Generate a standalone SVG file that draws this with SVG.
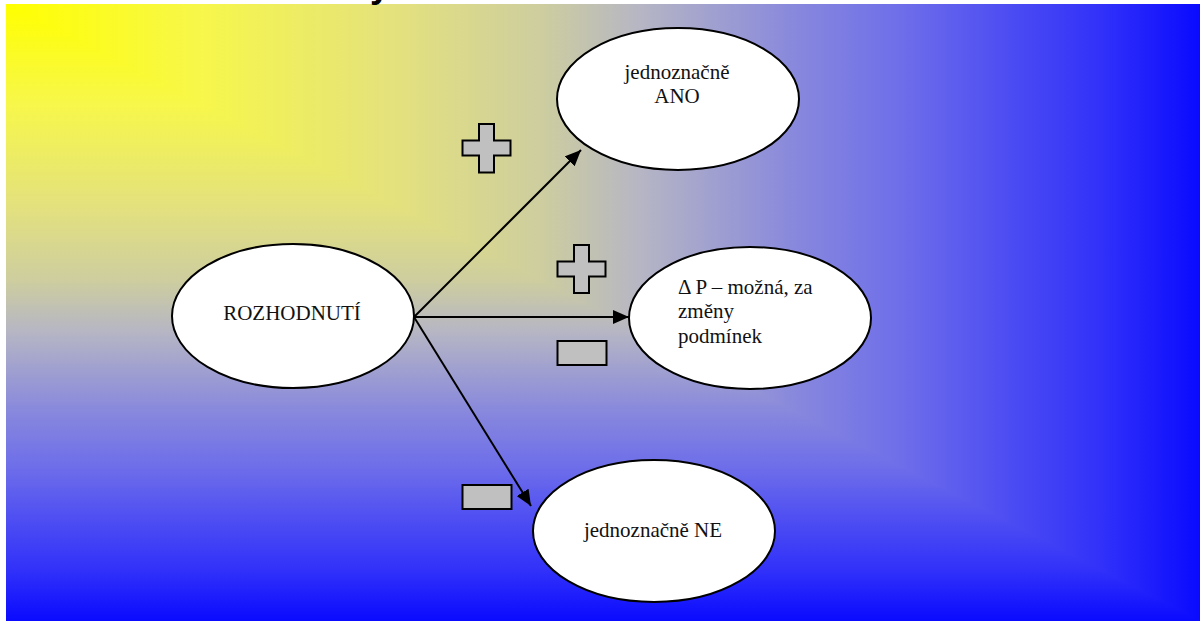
<svg xmlns="http://www.w3.org/2000/svg" width="1204" height="625" viewBox="0 0 1204 625">
  <style>
    .node ellipse { fill: #ffffff; stroke: #000000; stroke-width: 2; }
    .node text { font-family: "Liberation Serif", "Times New Roman", serif; font-size: 21px; fill: #111111; }
    .mid { text-anchor: middle; }
    .edge { stroke: #000000; stroke-width: 2; fill: none; marker-end: url(#arrow); }
    .sign { fill: #c0c0c0; stroke: #000000; stroke-width: 2; stroke-linejoin: miter; }
  </style>
  <defs>
    <!-- corner gradient: colour follows max(x, y) distance from the top-left corner -->
    <linearGradient id="bgH" gradientUnits="userSpaceOnUse" x1="6" y1="0" x2="1200" y2="0">
      <stop offset="0" stop-color="#ffff00"/>
      <stop offset="0.16" stop-color="#f7f74a"/>
      <stop offset="0.33" stop-color="#e3e17e"/>
      <stop offset="0.45" stop-color="#cdcda0"/>
      <stop offset="0.53" stop-color="#b6b6c4"/>
      <stop offset="0.66" stop-color="#8888dd"/>
      <stop offset="0.75" stop-color="#6e6eea"/>
      <stop offset="0.83" stop-color="#5050f2"/>
      <stop offset="0.92" stop-color="#3030fa"/>
      <stop offset="1" stop-color="#0a0aff"/>
    </linearGradient>
    <linearGradient id="bgV" gradientUnits="userSpaceOnUse" x1="0" y1="4" x2="0" y2="621">
      <stop offset="0" stop-color="#ffff00"/>
      <stop offset="0.16" stop-color="#f7f74a"/>
      <stop offset="0.33" stop-color="#e3e17e"/>
      <stop offset="0.45" stop-color="#cdcda0"/>
      <stop offset="0.53" stop-color="#b6b6c4"/>
      <stop offset="0.66" stop-color="#8888dd"/>
      <stop offset="0.75" stop-color="#6e6eea"/>
      <stop offset="0.83" stop-color="#5050f2"/>
      <stop offset="0.92" stop-color="#3030fa"/>
      <stop offset="1" stop-color="#0a0aff"/>
    </linearGradient>
    <marker id="arrow" markerUnits="userSpaceOnUse" markerWidth="16" markerHeight="14" refX="16" refY="7" orient="auto">
      <path d="M0,0 L16,7 L0,14 Z" fill="#000000"/>
    </marker>
  </defs>

  <!-- slide background -->
  <rect x="0" y="0" width="1204" height="625" fill="#ffffff"/>
  <rect x="6" y="4" width="1194" height="617" fill="url(#bgH)"/>
  <polygon points="6,4 6,621 1200,621" fill="url(#bgV)"/>

  <!-- tail of the clipped slide title -->
  <text x="370" y="-3" font-family="Liberation Sans, Arial, sans-serif" font-weight="bold" font-size="36" fill="#000000">y</text>

  <!-- connectors -->
  <g id="connectors">
    <line class="edge" x1="414" y1="317" x2="581" y2="150"/>
    <line class="edge" x1="414" y1="317" x2="629" y2="317"/>
    <line class="edge" x1="414" y1="317" x2="531" y2="506"/>
  </g>

  <!-- plus / minus markers -->
  <g id="signs">
    <path class="sign" d="M479,124 h15 v16.5 h16.5 v15 h-16.5 v17 h-15 v-17 h-16.5 v-15 h16.5 Z"/>
    <path class="sign" d="M574,245 h15 v16.5 h16.5 v15 h-16.5 v16.5 h-15 v-16.5 h-16.5 v-15 h16.5 Z"/>
    <rect class="sign" x="557.5" y="341" width="49" height="24"/>
    <rect class="sign" x="462.5" y="485" width="49" height="24"/>
  </g>

  <g id="node-rozhodnuti" class="node">
    <ellipse cx="293" cy="316" rx="121" ry="72"/>
    <text class="mid" x="292" y="320">ROZHODNUTÍ</text>
  </g>

  <g id="node-ano" class="node">
    <ellipse cx="678" cy="99" rx="121" ry="71"/>
    <text class="mid" x="677" y="79">jednoznačně</text>
    <text class="mid" x="677" y="103">ANO</text>
  </g>

  <g id="node-mozna" class="node">
    <ellipse cx="750" cy="318" rx="121" ry="71"/>
    <text x="678" y="294">Δ P – možná, za</text>
    <text x="678" y="318">změny</text>
    <text x="678" y="343">podmínek</text>
  </g>

  <g id="node-ne" class="node">
    <ellipse cx="654" cy="531" rx="121" ry="71"/>
    <text class="mid" x="653" y="537">jednoznačně NE</text>
  </g>
</svg>
